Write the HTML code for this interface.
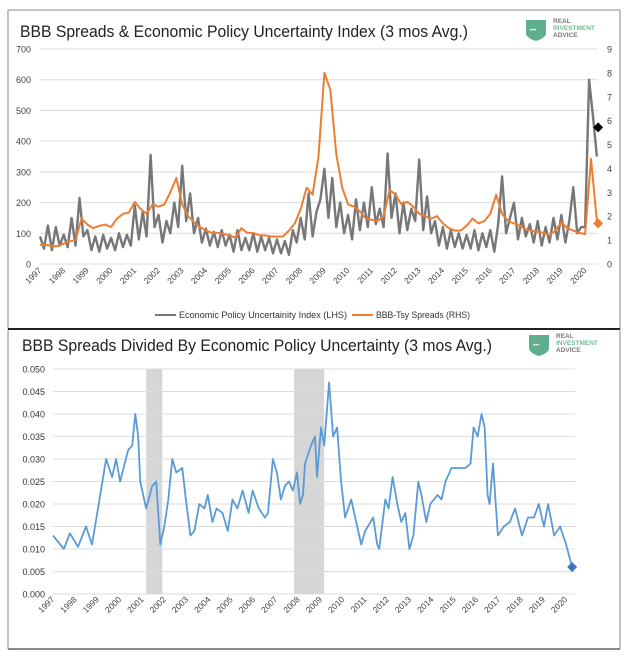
<!DOCTYPE html>
<html><head><meta charset="utf-8">
<style>
html,body{margin:0;padding:0;background:#fff;}
svg{display:block;font-family:"Liberation Sans",sans-serif;}
</style></head>
<body>
<svg id="chart" width="630" height="657" viewBox="0 0 630 657" xmlns="http://www.w3.org/2000/svg">
  <rect x="0" y="0" width="630" height="657" fill="#fff"/>
  <g fill="none">
    <line x1="8" y1="10" x2="620" y2="10" stroke="#888" stroke-width="1"/>
    <line x1="8" y1="10" x2="8" y2="329" stroke="#888" stroke-width="1"/>
    <line x1="620" y1="10" x2="620" y2="329" stroke="#888" stroke-width="1"/>
    <line x1="8" y1="329" x2="620" y2="329" stroke="#222" stroke-width="2"/>
  </g>
  <g fill="none">
    <line x1="8" y1="330" x2="8" y2="649" stroke="#888" stroke-width="1"/>
    <line x1="620" y1="330" x2="620" y2="649" stroke="#888" stroke-width="1"/>
    <line x1="8" y1="649" x2="620" y2="649" stroke="#666" stroke-width="1.5"/>
  </g>
  <text x="20" y="37" font-size="17" fill="#222" textLength="448" lengthAdjust="spacingAndGlyphs">BBB Spreads &amp; Economic Policy Uncertainty Index (3 mos Avg.)</text>
  <text x="22" y="351" font-size="17" fill="#222" textLength="470" lengthAdjust="spacingAndGlyphs">BBB Spreads Divided By Economic Policy Uncertainty (3 mos Avg.)</text>

  <g>
    <path d="M526 20 h20 v13 q0 5 -10 8 q-10 -3 -10 -8 z" fill="#5fae8e"/>
    <text x="530" y="32" font-size="6" fill="#fff">•••</text>
    <text x="553" y="23" font-size="6.5" font-weight="bold" fill="#777">REAL</text>
    <text x="553" y="30" font-size="6.5" font-weight="bold" fill="#6fbf9a">INVESTMENT</text>
    <text x="553" y="37" font-size="6.5" font-weight="bold" fill="#777">ADVICE</text>
  </g>
  <g>
    <path d="M529 335 h20 v13 q0 5 -10 8 q-10 -3 -10 -8 z" fill="#5fae8e"/>
    <text x="533" y="347" font-size="6" fill="#fff">•••</text>
    <text x="556" y="338" font-size="6.5" font-weight="bold" fill="#777">REAL</text>
    <text x="556" y="345" font-size="6.5" font-weight="bold" fill="#6fbf9a">INVESTMENT</text>
    <text x="556" y="352" font-size="6.5" font-weight="bold" fill="#777">ADVICE</text>
  </g>

  <g id="top"></g>
  <g id="bot"></g>

  <g>
    <line x1="155" y1="315" x2="176" y2="315" stroke="#777" stroke-width="2"/>
    <text x="179" y="318" font-size="9" fill="#333" textLength="168" lengthAdjust="spacingAndGlyphs">Economic Policy Uncertainity Index (LHS)</text>
    <line x1="352" y1="315" x2="373" y2="315" stroke="#ed7d31" stroke-width="2"/>
    <text x="376" y="318" font-size="9" fill="#333" textLength="94" lengthAdjust="spacingAndGlyphs">BBB-Tsy Spreads (RHS)</text>
  </g>
</svg>
<script>
const years = [1997,1998,1999,2000,2001,2002,2003,2004,2005,2006,2007,2008,2009,2010,2011,2012,2013,2014,2015,2016,2017,2018,2019,2020];
const leftTicks = [0,100,200,300,400,500,600,700];
const rightTicks = [0,1,2,3,4,5,6,7,8,9];
const spreads = [
0.8,0.8,0.75,0.75, 0.85,0.95,1.0,1.9, 1.65,1.5,1.6,1.65, 1.55,1.9,2.1,2.15,
2.6,2.3,2.1,2.5, 2.4,2.5,3.0,3.6, 2.5,2.0,1.75,1.55, 1.4,1.3,1.3,1.25,
1.2,1.1,1.5,1.3, 1.3,1.2,1.2,1.15, 1.15,1.15,1.4,1.7, 2.3,3.2,2.9,4.5,
8.0,7.3,4.6,3.2, 2.5,2.4,2.2,1.9, 1.85,1.8,2.0,3.1, 2.9,2.5,2.6,2.4,
2.1,2.0,1.9,2.0, 1.7,1.5,1.4,1.4, 1.6,1.9,1.7,1.8, 2.1,2.9,2.1,1.8,
1.7,1.6,1.45,1.4, 1.35,1.3,1.2,1.4, 1.75,1.5,1.4,1.3, 1.25,4.4,1.8];
const epu = [
90,50,125,45,120,60, 95,55,150,60,215,90, 110,45,90,40,95,50, 85,45,100,55,95,60,
190,80,170,90,355,120, 160,70,140,100,200,120, 320,140,230,100,150,70, 115,60,105,55,110,60,
95,40,110,45,85,45, 100,40,90,45,85,35, 80,35,75,30,110,70, 150,80,230,90,170,210,
310,150,280,120,200,100, 160,80,210,110,200,120, 250,130,180,120,360,150, 230,100,200,110,180,140,
340,110,220,100,140,60, 120,50,110,55,100,50, 95,50,110,45,100,55, 110,40,130,285,100,150,
200,80,150,90,130,70, 140,60,120,70,150,80, 160,70,140,250,100,120, 120,600,480,350];
const epuLast = [2020.55, 445];
const spreadLast = [2020.55, 1.7];

const ratioTicks = [0,0.005,0.01,0.015,0.02,0.025,0.03,0.035,0.04,0.045,0.05];
const ratioDates = [1997.0,1997.49,1997.76,1998.12,1998.48,1998.75,1999.02,1999.38,1999.65,1999.83,2000.01,2000.37,2000.55,2000.69,2000.82,2000.91,2001.18,2001.45,2001.63,2001.81,2001.99,2002.17,2002.35,2002.53,2002.8,2002.98,2003.16,2003.34,2003.56,2003.79,2003.94,2004.15,2004.33,2004.6,2004.84,2005.05,2005.27,2005.5,2005.77,2005.95,2006.23,2006.5,2006.64,2006.86,2007.04,2007.22,2007.4,2007.58,2007.76,2007.94,2008.08,2008.21,2008.3,2008.57,2008.75,2008.84,2009.02,2009.16,2009.38,2009.56,2009.74,2009.92,2010.1,2010.37,2010.64,2010.82,2011.0,2011.36,2011.54,2011.63,2011.9,2012.05,2012.23,2012.44,2012.62,2012.8,2012.98,2013.16,2013.38,2013.52,2013.74,2013.92,2014.24,2014.42,2014.6,2014.87,2015.14,2015.5,2015.72,2015.86,2016.04,2016.22,2016.36,2016.49,2016.58,2016.73,2016.95,2017.22,2017.49,2017.72,2018.03,2018.3,2018.57,2018.78,2019.02,2019.2,2019.47,2019.74,2020.01,2020.28,2020.42];
const ratioValues = [.013,.010,.0135,.0105,.015,.011,.019,.030,.026,.030,.025,.032,.033,.040,.035,.025,.019,.024,.025,.011,.015,.021,.030,.027,.028,.020,.013,.014,.020,.019,.022,.016,.019,.018,.014,.021,.019,.023,.018,.023,.019,.017,.018,.030,.027,.021,.024,.025,.023,.027,.020,.022,.029,.033,.035,.026,.037,.033,.047,.035,.037,.025,.017,.021,.015,.011,.014,.017,.011,.010,.021,.019,.026,.020,.016,.018,.010,.013,.025,.022,.016,.020,.022,.021,.025,.028,.028,.028,.029,.037,.035,.040,.037,.022,.020,.029,.013,.015,.016,.019,.013,.017,.017,.020,.015,.020,.013,.015,.011,.006];
const recessions = [[2001.18,2001.9],[2007.81,2009.16]];

const NS='http://www.w3.org/2000/svg';
function mk(parent,tag,attrs){const e=document.createElementNS(NS,tag);for(const k in attrs)e.setAttribute(k,attrs[k]);parent.appendChild(e);return e;}

(function(){
  const g=document.getElementById('top');
  const x=t=>40+(t-1997)*23.7;
  const yL=v=>264-v*(215/700);
  const yR=v=>264-v*(215/9);
  leftTicks.forEach(v=>{
    const l=mk(g,'line',{x1:40,x2:598,y1:yL(v),y2:yL(v),stroke:'#dcdcdc','stroke-width':1});
    
    
    const t=mk(g,'text',{x:31,y:yL(v)+3.5,'font-size':9,'text-anchor':'end',fill:'#444'});
    
    
    t.textContent=v;
  });
  rightTicks.forEach(v=>{
    const t=mk(g,'text',{x:607,y:yR(v)+3.5,'font-size':9,fill:'#444'});
    
    
    t.textContent=v;
  });
  years.forEach(yv=>{
    const xx=x(yv);
    const t=mk(g,'text',{x:xx+2,y:271,'font-size':8.5,'text-anchor':'end',fill:'#444',transform:`rotate(-45 ${xx+2} 271)`});
    
    
    t.textContent=yv;
  });
  let d='';
  epu.forEach((v,i)=>{d+=(i?'L':'M')+x(1997+i/6).toFixed(1)+' '+yL(v).toFixed(1);});
  const p1=mk(g,'path',{d:d,fill:'none',stroke:'#777','stroke-width':2.4,'stroke-linejoin':'round'});
  
  
  let d2='';
  spreads.forEach((v,i)=>{d2+=(i?'L':'M')+x(1997+i/4).toFixed(1)+' '+yR(v).toFixed(1);});
  const p2=mk(g,'path',{d:d2,fill:'none',stroke:'#ed7d31','stroke-width':2,'stroke-linejoin':'round'});
  
  
  const ex=x(epuLast[0]),ey=yL(epuLast[1]);
  const m1=mk(g,'path',{d:`M${ex} ${ey-5}L${ex+5} ${ey}L${ex} ${ey+5}L${ex-5} ${ey}Z`,fill:'#000'});
  
  
  const sx=x(spreadLast[0]),sy=yR(spreadLast[1]);
  const m2=mk(g,'path',{d:`M${sx} ${sy-5}L${sx+5} ${sy}L${sx} ${sy+5}L${sx-5} ${sy}Z`,fill:'#ed7d31'});
  
  
})();

(function(){
  const g=document.getElementById('bot');
  const x=t=>53+(t-1997)*22.3;
  const y=v=>594-v*4500;
  recessions.forEach(r=>{
    const rc=mk(g,'rect',{x:x(r[0]),y:y(0.05),width:x(r[1])-x(r[0]),height:y(0)-y(0.05),fill:'#d6d6d6'});
    
    
  });
  ratioTicks.forEach(v=>{
    const l=mk(g,'line',{x1:53,x2:575,y1:y(v),y2:y(v),stroke:'#dcdcdc','stroke-width':1});
    
    
    const t=mk(g,'text',{x:45,y:y(v)+3.5,'font-size':9,'text-anchor':'end',fill:'#333'});
    
    
    t.textContent=v.toFixed(3);
  });
  years.forEach(yv=>{
    const xx=x(yv);
    const t=mk(g,'text',{x:xx+2,y:600,'font-size':8.5,'text-anchor':'end',fill:'#444',transform:`rotate(-45 ${xx+2} 600)`});
    
    
    t.textContent=yv;
  });
  let d='';
  ratioValues.forEach((v,i)=>{d+=(i?'L':'M')+x(ratioDates[i]).toFixed(1)+' '+y(v).toFixed(1);});
  const p=mk(g,'path',{d:d,fill:'none',stroke:'#5b9bd5','stroke-width':1.8,'stroke-linejoin':'round'});
  
  
  const n=ratioValues.length-1;
  const lx=x(ratioDates[n]),ly=y(ratioValues[n]);
  const m=mk(g,'path',{d:`M${lx} ${ly-5}L${lx+5} ${ly}L${lx} ${ly+5}L${lx-5} ${ly}Z`,fill:'#4472c4'});
  
  
})();
</script>
</body></html>
